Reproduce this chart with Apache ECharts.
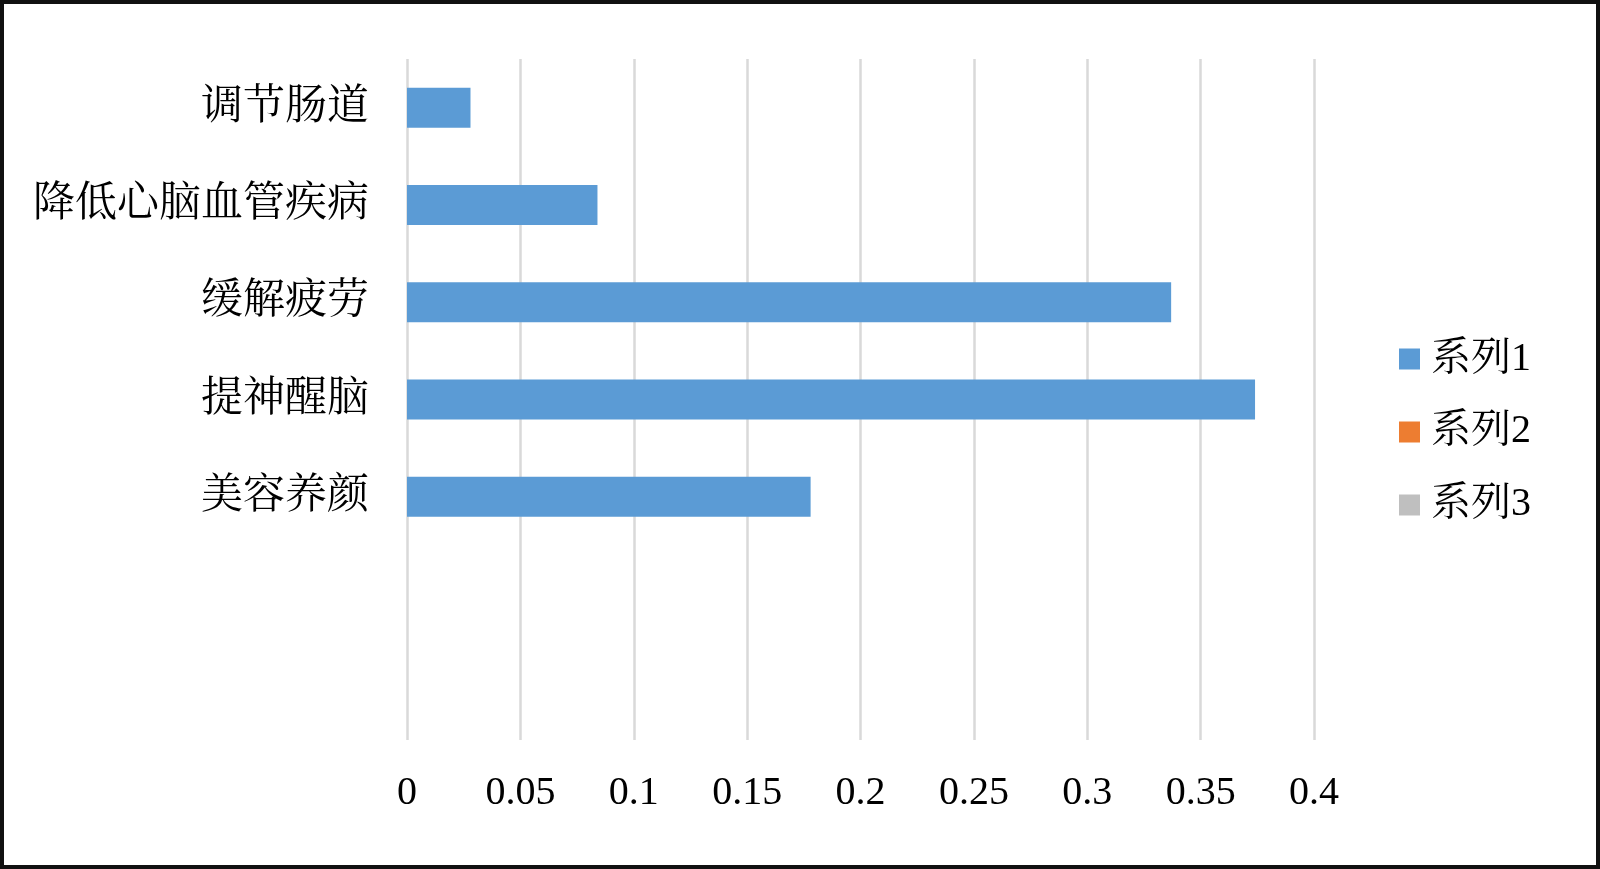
<!DOCTYPE html>
<html>
<head>
<meta charset="utf-8">
<script src="https://cdn.jsdelivr.net/npm/echarts@6/dist/echarts.min.js"></script>
<style>
html, body { margin: 0; padding: 0; background: #fff; }
#main { width: 1600px; height: 869px; }
</style>
</head>
<body>
<div id="main"></div>
<script>
// 类别(自下而上)，底部两个空位
var categories = ['', '', '美容养颜', '提神醒脑', '缓解疲劳', '降低心脑血管疾病', '调节肠道'];
var series1 = [null, null, 0.178, 0.374, 0.337, 0.084, 0.028];
var series2 = [];
var series3 = [];
var seriesNames = ['系列1', '系列2', '系列3'];
var xTicks = ['0', '0.05', '0.1', '0.15', '0.2', '0.25', '0.3', '0.35', '0.4'];

var font = "'Liberation Serif', 'Noto Serif CJK SC', 'Noto Sans CJK SC', serif";

var myChart = echarts.init(document.getElementById('main'));
var option = {
	backgroundColor: '#fff',
	animation: false,
	color: ['#5B9BD5', '#ED7D31', '#BFBFBF'],
	textStyle: { fontFamily: font },
	graphic: [{
		type: 'rect',
		shape: { x: 2, y: 2, width: 1596, height: 865 },
		style: { fill: 'none', stroke: '#111', lineWidth: 4 },
		z: 100
	}],
	grid: {
		left: 407,
		right: 286,
		top: 59,
		bottom: 129
	},
	legend: {
		orient: 'vertical',
		left: 1394,
		top: 334,
		itemWidth: 21,
		itemHeight: 21,
		itemGap: 33,
		icon: 'rect',
		data: seriesNames,
		textStyle: {
			fontFamily: font,
			fontSize: 40,
			color: '#000',
			padding: [0, 0, 0, 6]
		}
	},
	xAxis: {
		type: 'value',
		min: 0,
		max: 0.4,
		interval: 0.05,
		axisLine: { show: false },
		axisTick: { show: false },
		splitLine: { lineStyle: { color: '#d9d9d9', width: 2.5 } },
		axisLabel: {
			margin: 33,
			fontFamily: font,
			fontSize: 40,
			color: '#000',
			formatter: function(v) {
				return xTicks[Math.round(v / 0.05)];
			}
		}
	},
	yAxis: {
		type: 'category',
		data: categories,
		axisLine: { show: false },
		axisTick: { show: false },
		axisLabel: {
			margin: 38,
			fontFamily: font,
			fontSize: 42,
			color: '#000',
			padding: [7, 0, 0, 0]
		}
	},
	series: [{
		name: seriesNames[0],
		type: 'bar',
		stack: 'all',
		barWidth: 40,
		data: series1
	}, {
		name: seriesNames[1],
		type: 'bar',
		stack: 'all',
		barWidth: 40,
		data: series2
	}, {
		name: seriesNames[2],
		type: 'bar',
		stack: 'all',
		barWidth: 40,
		data: series3
	}]
};
myChart.setOption(option);
</script>
</body>
</html>
